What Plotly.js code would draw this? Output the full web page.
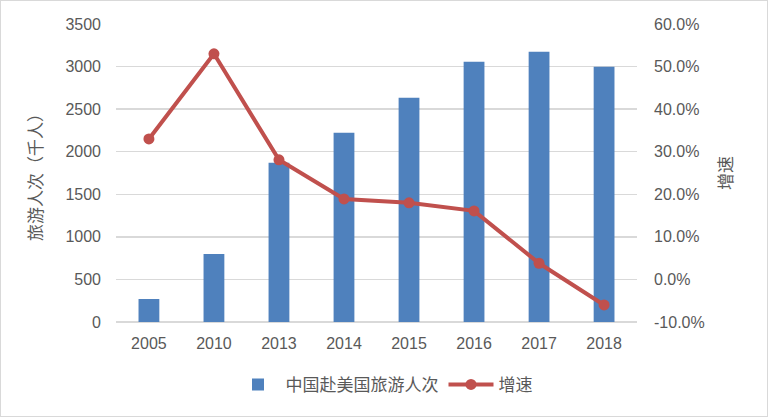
<!DOCTYPE html>
<html>
<head>
<meta charset="utf-8">
<script src="https://cdn.plot.ly/plotly-3.0.1.min.js"></script>
<style>
html,body{margin:0;padding:0;background:#fff;}
#chart{width:768px;height:417px;box-sizing:border-box;border:1px solid #D9D9D9;}
</style>
</head>
<body>
<div id="chart"></div>
<script>
const years = ["2005","2010","2013","2014","2015","2016","2017","2018"];
const visitors = [270, 800, 1869, 2223, 2634, 3057, 3175, 2999];
const growth = [0.330, 0.530, 0.281, 0.189, 0.180, 0.161, 0.038, -0.060];
const barName = "中国赴美国旅游人次";
const lineName = "增速";
const leftTitle = "旅游人次（千人）";
const rightTitle = "增速";
const rightTickVals = [-0.1, 0, 0.1, 0.2, 0.3, 0.4, 0.5, 0.6];
const rightTickText = ["-10.0%", "0.0%", "10.0%", "20.0%", "30.0%", "40.0%", "50.0%", "60.0%"];

const tickFont = {family: "Liberation Sans, Arial, sans-serif", size: 16, color: "#595959"};
const cjkFont = {family: "Noto Sans CJK SC, sans-serif", size: 17, color: "#595959"};

const data = [
  {
    type: "bar", x: years, y: visitors, name: barName,
    marker: {color: "#4F81BD"}, yaxis: "y"
  },
  {
    type: "scatter", mode: "lines+markers", x: years, y: growth, name: lineName,
    line: {color: "#C0504D", width: 4}, marker: {color: "#C0504D", size: 11},
    yaxis: "y2"
  }
];

const layout = {
  width: 766, height: 415,
  margin: {l: 115, r: 130, t: 23, b: 94},
  paper_bgcolor: "#fff", plot_bgcolor: "#fff",
  bargap: 0.68,
  showlegend: true,
  legend: {orientation: "h", x: 0.5, xanchor: "center", xref: "container",
           y: 0.075, yanchor: "middle", yref: "container",
           font: cjkFont, itemwidth: 45, traceorder: "normal"},
  xaxis: {
    type: "category", tickfont: tickFont, showgrid: false, zeroline: false,
    showline: false, ticks: "", ticklabelstandoff: 10
  },
  yaxis: {
    range: [0, 3500], dtick: 500, tickfont: tickFont,
    gridcolor: "#D9D9D9", gridwidth: 1.5, zeroline: true, zerolinecolor: "#D9D9D9", zerolinewidth: 1.5,
    showline: false, ticks: "", ticklabelstandoff: 14,
    title: {text: leftTitle, font: cjkFont, standoff: 18}
  },
  yaxis2: {
    overlaying: "y", side: "right",
    range: [-0.10, 0.60], tickmode: "array", tickvals: rightTickVals, ticktext: rightTickText,
    tickfont: tickFont, showgrid: false, zeroline: false, showline: false, ticks: "",
    ticklabelstandoff: 16,
    title: {text: rightTitle, font: cjkFont, standoff: 16}
  }
};

Plotly.newPlot("chart", data, layout, {displayModeBar: false, staticPlot: true});
</script>
</body>
</html>
